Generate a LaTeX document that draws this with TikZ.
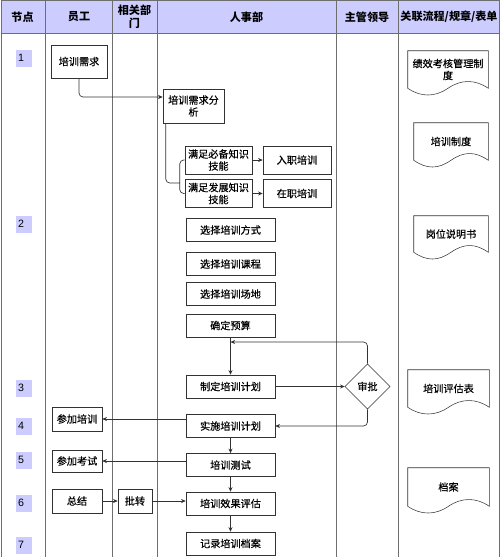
\documentclass[tikz,border=0pt]{standalone}
\usepackage{fontspec}
\setmainfont{Liberation Sans}
\newfontfamily\cjk{Noto Sans CJK SC}[FakeBold=0.4]
\newfontfamily\cjkhead{Noto Sans CJK SC}
\usetikzlibrary{positioning,shapes.geometric,arrows.meta,calc}

\definecolor{headfill}{RGB}{204,204,255}
\definecolor{lanec}{RGB}{110,110,110}
\definecolor{boxc}{RGB}{50,50,50}

% document shape with a wavy bottom edge
\newcommand{\wavedoc}[1]{%
  \draw [boxc] (#1.south west) -- (#1.north west) -- (#1.north east) -- (#1.south east)
    .. controls +(-13,-9) and +(13,-9) .. (#1.south)
    .. controls +(-13,9) and +(13,9) .. (#1.south west) ;}

\begin{document}
\begin{tikzpicture}[x=0.75pt,y=0.75pt,yscale=-1,xscale=1,
  box/.style={draw=boxc, fill=white, align=center, inner sep=1pt, font=\cjk\fontsize{7.6pt}{9pt}\selectfont},
  wide/.style={box, minimum width=66.75pt, minimum height=17.25pt},
  docnode/.style={align=center, inner sep=1pt, font=\cjk\fontsize{7.6pt}{9pt}\selectfont},
  headtext/.style={align=center, inner sep=0pt, font=\cjkhead\bfseries\fontsize{8.3pt}{9.5pt}\selectfont},
  numbox/.style={fill=headfill, text width=8pt, align=left, inner sep=2pt, minimum height=12.75pt, font=\fontsize{8pt}{9pt}\selectfont},
  line/.style={draw=boxc, line width=0.5pt},
  flow/.style={line, -{Stealth[length=3.5pt,width=3pt]}}]

\useasboundingbox (0,0) rectangle (500,557);

%Shape: Rectangle [header]
\fill [headfill] (0.5,0.5) rectangle (499.5,33);
\draw [lanec] (0.5,0.5) -- (499.5,0.5) ;
\draw [lanec] (0.5,33) -- (499.5,33) ;
%Straight Lines [lanes]
\draw [lanec] (0.8,0) -- (0.8,557) ;
\draw [lanec] (45,0) -- (45,557) ;
\draw [lanec] (112.5,0) -- (112.5,557) ;
\draw [lanec] (157,0) -- (157,557) ;
\draw [lanec] (336.5,0) -- (336.5,557) ;
\draw [lanec] (398,0) -- (398,557) ;
\draw [lanec] (499.2,0) -- (499.2,557) ;

% Text Node
\node [headtext] (h1) at (22.5,17) {节点};
\node [headtext] (h2) at (79,17) {员工};
\node [headtext] (h3) at (134.5,17) {相关部\\门};
\node [headtext] (h4) at (246.5,17) {人事部};
\node [headtext] (h5) at (367,17) {主管领导};
\node [headtext] (h6) at (449,17) {关联流程/规章/表单};

% Text Node [step numbers]
\node [numbox] (n1) at (23.5,58) {1};
\node [numbox] (n2) at (23.5,224) {2};
\node [numbox] (n3) at (23.5,388) {3};
\node [numbox] (n4) at (23.5,426) {4};
\node [numbox] (n5) at (23.5,460) {5};
\node [numbox] (n6) at (23.5,503) {6};
\node [numbox] (n7) at (23.5,545) {7};

%Shape: Rectangle [boxes]
\node [box, minimum width=42pt, minimum height=24.75pt] (xq) at (79,61.5) {培训需求};
\node [box, minimum width=45.75pt, minimum height=25.5pt] (fx) at (193.5,106) {培训需求分\\析};
\node [box, minimum width=50.25pt, minimum height=21pt] (bb) at (218.5,160) {满足必备知识\\技能};
\node [box, minimum width=50.25pt, minimum height=21pt] (fz) at (218.5,193.5) {满足发展知识\\技能};
\node [box, minimum width=51pt, minimum height=21pt] (rz) at (297,160) {入职培训};
\node [box, minimum width=51pt, minimum height=21pt] (zz) at (297,193.5) {在职培训};
\node [wide] (fs) at (230.5,230) {选择培训方式};
\node [wide] (kc) at (230.5,264) {选择培训课程};
\node [wide] (cd) at (230.5,294) {选择培训场地};
\node [wide] (ys) at (230.5,325.5) {确定预算};
\node [wide] (jh) at (230.5,386.5) {制定培训计划};
\node [box, shape=diamond, minimum width=33.75pt, minimum height=33.75pt, inner sep=0pt] (sp) at (367.5,386.5) {审批};
\node [wide] (ss) at (230.5,426) {实施培训计划};
\node [wide] (cs) at (230.5,465) {培训测试};
\node [wide] (pg) at (230.5,503.5) {培训效果评估};
\node [wide] (jl) at (230.5,543.5) {记录培训档案};
\node [box, minimum width=37.5pt, minimum height=18pt] (cj) at (77,419) {参加培训};
\node [box, minimum width=37.5pt, minimum height=16.5pt] (ks) at (77,461) {参加考试};
\node [box, minimum width=37.5pt, minimum height=18pt] (zj) at (77,501) {总结};
\node [box, minimum width=25.5pt, minimum height=18pt] (pz) at (135,501) {批转};

%Shape: Document
\node [docnode, minimum width=60pt, minimum height=27.75pt] (d1) at (448,69.5) {绩效考核管理制\\度};
\node [docnode, minimum width=55.5pt, minimum height=27.75pt] (d2) at (451,141.5) {培训制度};
\node [docnode, minimum width=55.5pt, minimum height=27pt] (d3) at (451,234) {岗位说明书};
\node [docnode, minimum width=60.75pt, minimum height=27.75pt] (d4) at (448.5,388.5) {培训评估表};
\node [docnode, minimum width=60.75pt, minimum height=28.5pt] (d5) at (448.5,487) {档案};
\wavedoc{d1}
\wavedoc{d2}
\wavedoc{d3}
\wavedoc{d4}
\wavedoc{d5}

%Straight Lines [connectors]
\coordinate (brk) at (180,183);
\coordinate (fb) at (230.5,342);
\draw [flow, rounded corners=3pt] (xq.south) |- ([yshift=-6.75pt]fx.west) ;
\draw [line, rounded corners=3pt] ($(fx.south west)+(3,0)$) |- (brk) ;
\draw [line, rounded corners=3pt] (bb.west) -- ++(-5,0) |- (fz.west) ;
\draw [flow] (bb) -- (rz) ;
\draw [flow] (fz.east) -- (fz.east -| zz.west) ;
\draw [flow] (ys) -- (jh) ;
\draw [flow, rounded corners=3pt] (sp.north) |- (fb) ;
\draw [flow] (jh) -- (sp) ;
\draw [flow, rounded corners=3pt] (sp.south) |- (ss.east) ;
\draw [flow] (ss.west |- cj.east) -- (cj.east) ;
\draw [flow] (ss) -- (cs) ;
\draw [flow] (cs.west |- ks.east) -- (ks.east) ;
\draw [flow] (cs) -- (pg) ;
\draw [flow] (pg) -- (jl) ;
\draw [flow] (zj) -- (pz) ;
\draw [flow] (pz.east) -- (pz.east -| pg.west) ;
\end{tikzpicture}
\end{document}
